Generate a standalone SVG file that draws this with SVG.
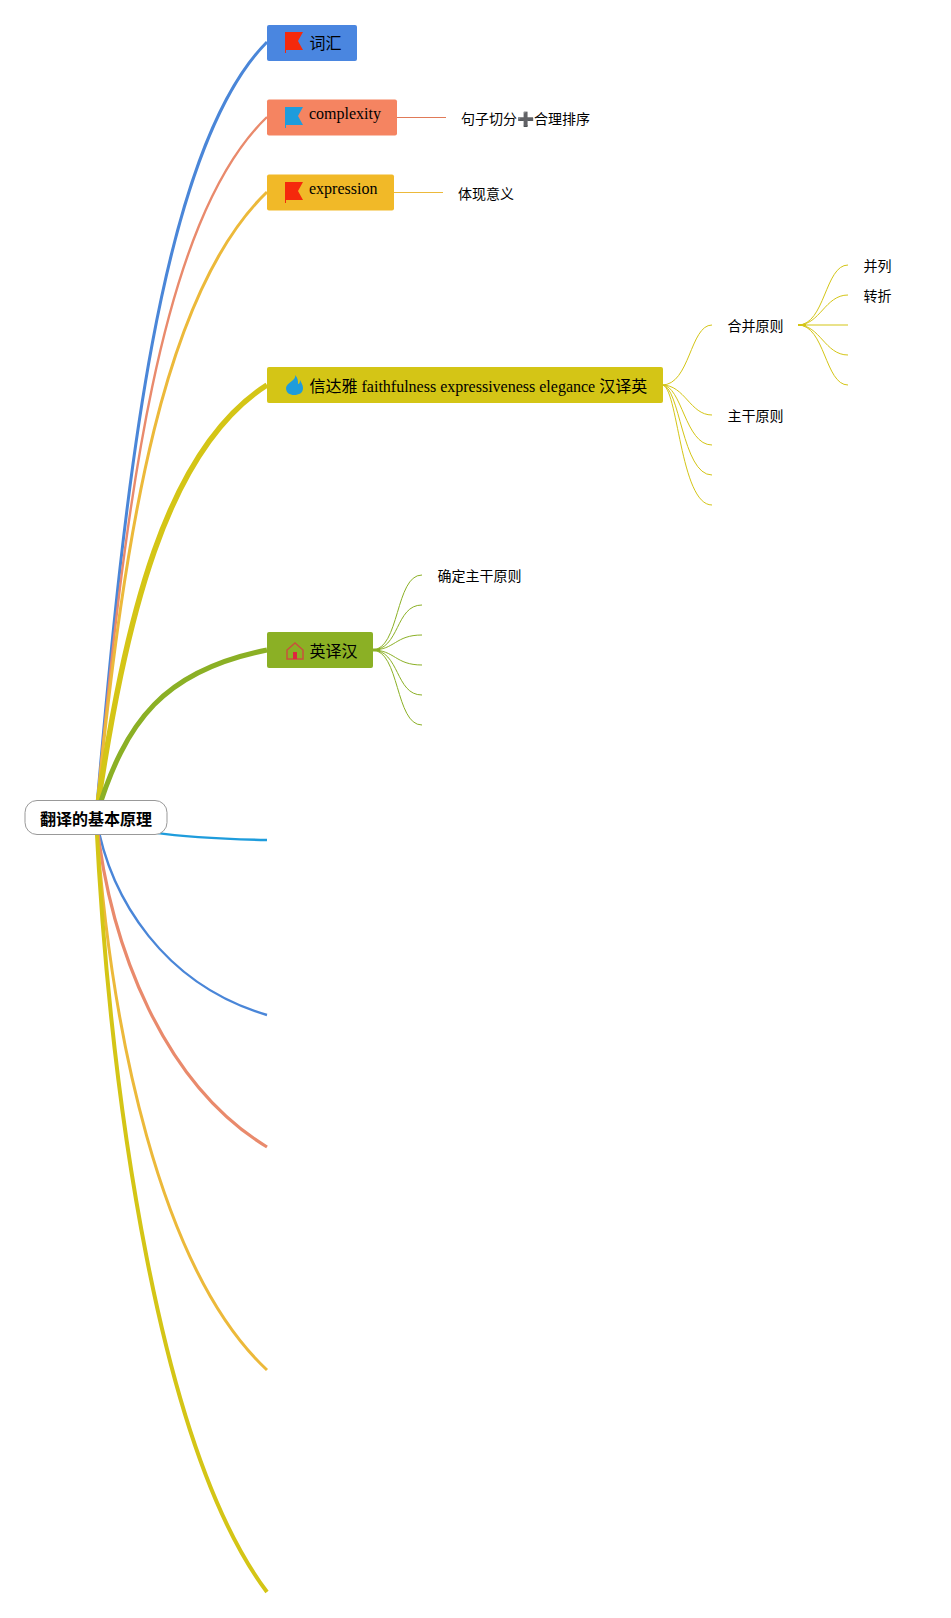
<svg xmlns="http://www.w3.org/2000/svg" width="951" height="1618" viewBox="0 0 951 1618">
<style>
text{font-family:"Liberation Serif","Noto Sans CJK SC",serif;fill:#000;font-size:16px}
.s{font-family:"Liberation Sans","Noto Sans CJK SC",sans-serif;font-size:14px}
.r{font-family:"Liberation Sans","Noto Sans CJK SC",sans-serif;font-size:16px;font-weight:700}
#connectors path{fill:none}
.y{stroke:#d4c516;stroke-width:1}
.g{stroke:#8bb025;stroke-width:1}
</style>
<g id="connectors">
<path d="M96 817C125 480 160 150 267 42" stroke="#4a86d8" stroke-width="3"/>
<path d="M96 817C125 500 160 220 267 117" stroke="#e98a6c" stroke-width="2.400"/>
<path d="M96 817C125 520 165 290 267 192" stroke="#ecb93a" stroke-width="3"/>
<path d="M96 817C125 620 165 450 267 385" stroke="#d4c516" stroke-width="5.500"/>
<path d="M96 817C125 720 165 670 267 650" stroke="#8bb025" stroke-width="5"/>
<path d="M96 817C125 830 165 838 267 840" stroke="#1e9cdc" stroke-width="2.400"/>
<path d="M96 817C110 900 165 985 267 1015" stroke="#4a86d8" stroke-width="2.400"/>
<path d="M96 817C110 950 165 1085 267 1147" stroke="#e98a6c" stroke-width="3.200"/>
<path d="M96 817C110 1030 160 1270 267 1370" stroke="#ecb93a" stroke-width="3"/>
<path d="M96 817C110 1100 160 1450 267 1592" stroke="#d4c516" stroke-width="4"/>
<path d="M396 117.500H446" stroke="#e07a58"/>
<path d="M393 192.500H443" stroke="#ecb93a"/>
<g class="y">
<path d="M662 385C690 385 690 325 712 325"/>
<path d="M662 385C685 385 690 415 712 415"/>
<path d="M662 385C682 385 685 445 712 445"/>
<path d="M662 385C680 385 682 475 712 475"/>
<path d="M662 385C678 385 680 505 712 505"/>
<path d="M798 325C825 325 825 265 848 265"/>
<path d="M798 325C820 325 825 295 848 295"/>
<path d="M798 325H848" stroke-width="2" opacity=".5"/>
<path d="M798 325C820 325 825 355 848 355"/>
<path d="M798 325C825 325 825 385 848 385"/>
<path d="M798 325H806" stroke-width="2"/>
</g>
<g class="g">
<path d="M372 650C400 650 395 575 422 575"/>
<path d="M372 650C400 650 395 605 422 605"/>
<path d="M372 650C395 650 395 635 422 635"/>
<path d="M372 650C395 650 395 665 422 665"/>
<path d="M372 650C400 650 395 695 422 695"/>
<path d="M372 650C400 650 395 725 422 725"/>
<path d="M372 650H380" stroke-width="3"/>
</g>
</g>
<g id="root"><rect x="25" y="800.500" width="142" height="34" rx="12" fill="#fff" stroke="#999"/><text class="r" x="96" y="825" text-anchor="middle">翻译的基本原理</text></g>
<g id="n1"><rect x="267" y="25" width="90" height="36" rx="2" fill="#4a86e0"/><path d="M285 32H303L298 41L303 50H286V53H285Z" fill="#f5290c"/><text x="309.500" y="49">词汇</text></g>
<g id="n2"><rect x="267" y="99.500" width="130" height="36" rx="2" fill="#f58461"/><path d="M285 107H303L298 116L303 125H286V128H285Z" fill="#1e9cdc"/><text x="309" y="119">complexity</text></g>
<g id="n2c"><text class="s" x="461" y="124">句子切分➕合理排序</text></g>
<g id="n3"><rect x="267" y="174.500" width="127" height="36" rx="2" fill="#f1b928"/><path d="M285 182H303L298 191L303 200H286V203H285Z" fill="#f5290c"/><text x="309" y="194">expression</text></g>
<g id="n3c"><text class="s" x="458" y="199">体现意义</text></g>
<g id="n4"><rect x="267" y="367" width="396" height="36" rx="2" fill="#d4c516"/><path d="M295 375C297 380 286 383 286 388C286 393 290 395 294 395C299 395 303 393 303 388C303 385 301 382 300 380C300 383 299 384 298 384C298 381 298 378 295 375Z" fill="#1e9cdc"/><text x="309.500" y="392">信达雅 faithfulness expressiveness elegance 汉译英</text></g>
<g id="n41"><text class="s" x="727.500" y="331">合并原则</text></g>
<g id="n42"><text class="s" x="727.500" y="421">主干原则</text></g>
<g id="n411"><text class="s" x="863.500" y="271">并列</text></g>
<g id="n412"><text class="s" x="863.500" y="301">转折</text></g>
<g id="n5"><rect x="267" y="632" width="106" height="36" rx="2" fill="#8bb025"/><path d="M287 650L295 643L303 650V659H287Z" fill="none" stroke="#c9513c" stroke-width="1.500"/><rect x="293" y="652" width="4" height="7" fill="#e0263f"/><text x="309.500" y="657">英译汉</text></g>
<g id="n51"><text class="s" x="437.500" y="581">确定主干原则</text></g>
</svg>
